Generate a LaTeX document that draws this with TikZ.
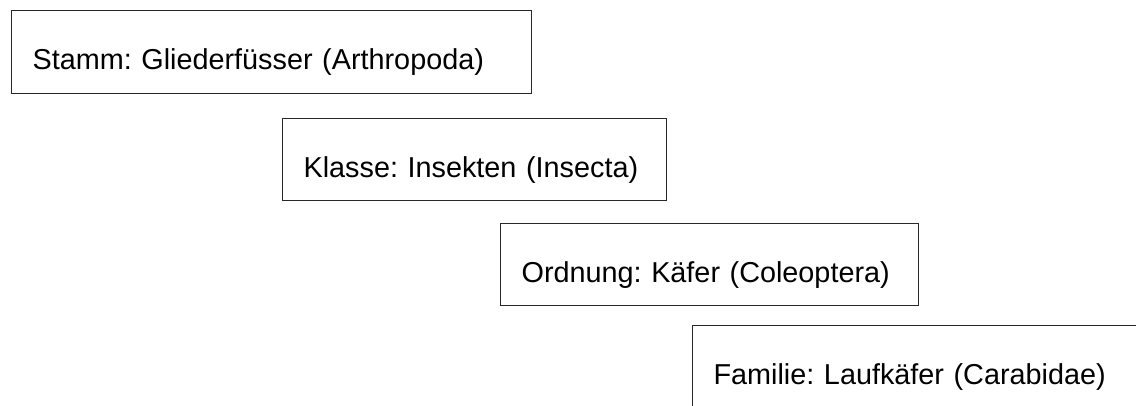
\documentclass[tikz,border=0pt]{standalone}
\usepackage{fontspec}
\setmainfont{Liberation Sans}
\usepackage{tikz}
\usetikzlibrary{positioning}
\definecolor{boxline}{RGB}{40,40,40}

\tikzset{
  taxbox/.style={draw=boxline,line width=1.2pt,anchor=north west,
    inner xsep=21pt,inner ysep=0pt,text height=59pt,text depth=23.5pt,
    align=left,font=\fontsize{28.8}{34}\selectfont\frenchspacing},
}

\begin{document}
\begin{tikzpicture}[x=1pt,y=-1pt]

    % page frame
    \clip (0,0) rectangle (1136,405);

    % taxonomy steps
    \node[taxbox,text width=477.5pt] (stamm) at (11,10)
      {Stamm: Gliederfüsser (Arthropoda)};
    \node[taxbox,text width=341.5pt] (klasse) at (282,117.5)
      {Klasse: Insekten (Insecta)};
    \node[taxbox,text width=375.5pt] (ordnung) at (500,222.5)
      {Ordnung: Käfer (Coleoptera)};
    \node[taxbox,text width=420pt] (familie) at (692,325)
      {Familie: Laufkäfer (Carabidae)};

\end{tikzpicture}
\end{document}
